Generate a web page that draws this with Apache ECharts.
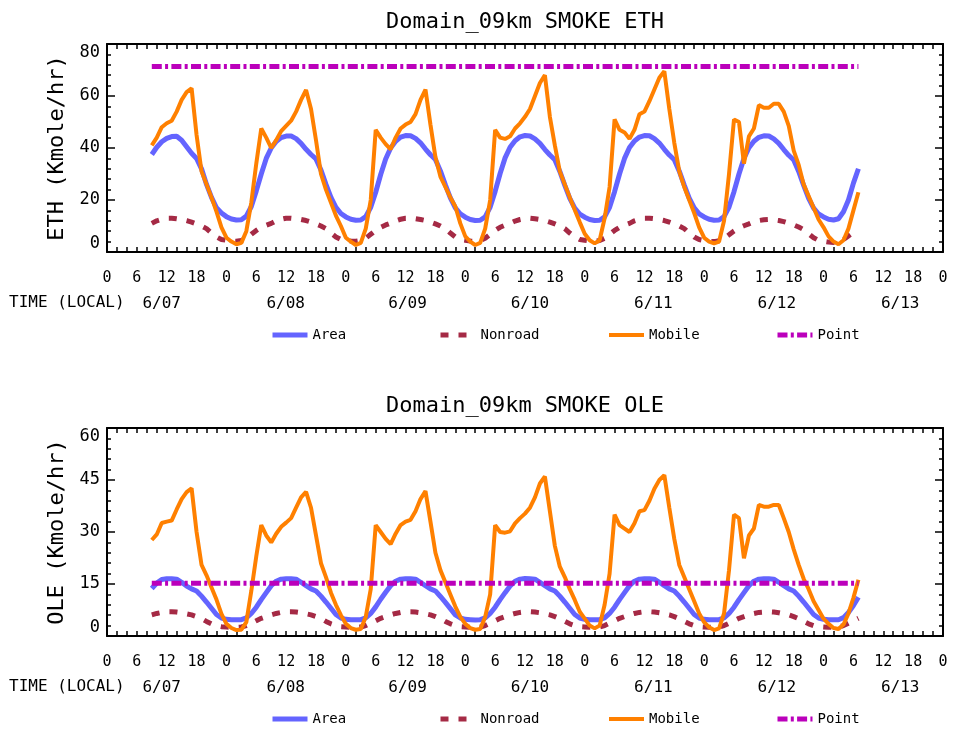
<!DOCTYPE html>
<html>
<head>
<meta charset="utf-8">
<script src="https://cdn.jsdelivr.net/npm/echarts@6/dist/echarts.min.js"></script>
<style>html,body{margin:0;padding:0;background:#fff}#c{width:957px;height:731px}</style>
</head>
<body>
<div id="c"></div>
<script>
// ---------------- DATA ----------------
// hourly values, local time, first value at 6/07 09:00 (hour 9 of the axis), last at 6/13 07:00
const firstHour = 9;
const dateLabels = ['6/07', '6/08', '6/09', '6/10', '6/11', '6/12', '6/13'];
const dateLabelHours = [11, 35.9, 60.4, 85, 109.8, 134.6, 159.4];
const seriesNames = ['Area', 'Nonroad', 'Mobile', 'Point'];

const ethArea = [
  37.5, 40.3, 42.4, 43.7, 44.4, 44.5, 43, 40.5, 38, 36, 32, 26, 21, 17, 15,
  13.6, 12.7, 12.3, 12.4, 13.8, 17.5, 23.5, 30, 36, 40, 42.5, 44, 44.6, 44.6, 43.6, 41.8, 39.5, 37.5, 35.8, 31.5, 26, 21, 17.2, 14.8,
  13.5, 12.6, 12.2, 12.3, 13.6, 17.2, 23, 29.8, 35.8, 40, 42.6, 44.2, 44.8, 44.7, 43.7, 42, 39.6, 37.4, 35.6, 31.2, 25.8, 20.8, 17, 14.7,
  13.4, 12.5, 12.1, 12.2, 13.5, 17.3, 23.3, 30.2, 36.2, 40.3, 42.8, 44.3, 44.8, 44.6, 43.5, 41.8, 39.4, 37.3, 35.5, 31, 25.6, 20.6, 16.9, 14.6,
  13.4, 12.5, 12.1, 12.2, 13.5, 17.2, 23.2, 30, 36, 40.2, 42.7, 44.2, 44.8, 44.7, 43.6, 41.9, 39.5, 37.3, 35.5, 31.1, 25.7, 20.7, 17, 14.7,
  13.5, 12.6, 12.2, 12.3, 13.6, 17.3, 23.2, 30, 36, 40.1, 42.6, 44.1, 44.7, 44.6, 43.5, 41.8, 39.4, 37.2, 35.4, 31, 25.6, 20.6, 16.9, 14.6,
  13.5, 12.6, 12.3, 12.8, 15.5, 20, 26.5, 32
];
const ethNonroad = [
  11, 12, 12.6, 13, 13, 12.8, 12.5, 12.1, 11.5, 10.8, 10, 9, 7.3, 5.8, 4.8,
  4.5, 4.2, 4.1, 4.4, 5.3, 6.8, 8.3, 9.5, 10.3, 11, 12, 12.6, 13, 13, 12.8, 12.5, 12.1, 11.5, 10.8, 10, 9, 7.3, 5.8, 4.8,
  4.5, 4.2, 4.1, 4.4, 5.3, 6.8, 8.3, 9.5, 10.4, 11.1, 12, 12.6, 13, 13, 12.8, 12.5, 12.1, 11.5, 10.8, 10, 9, 7.3, 5.8, 4.8,
  4.5, 4.2, 4.1, 4.4, 5.3, 6.8, 8.3, 9.5, 10.3, 11, 11.9, 12.5, 12.9, 13, 12.8, 12.5, 12.1, 11.5, 10.8, 10, 9, 7.3, 5.8, 4.8,
  4.5, 4.2, 4.1, 4.4, 5.3, 6.8, 8.3, 9.5, 10.3, 11, 12, 12.6, 13, 13, 12.8, 12.5, 12.1, 11.5, 10.8, 10, 9, 7.3, 5.8, 4.8,
  4.4, 4.1, 4, 4.3, 5.2, 6.6, 8.1, 9.3, 10.1, 10.8, 11.6, 12.1, 12.4, 12.5, 12.4, 12.1, 11.7, 11.1, 10.4, 9.6, 8.6, 7, 5.5, 4.5,
  4.1, 3.8, 3.7, 4, 4.8, 6.2, 7.6, 8.8
];
const ethMobile = [
  41, 44, 48, 49.5, 50.5, 54, 58.5, 61.5, 63, 45, 31, 26, 21, 15.5, 9.5,
  5.5, 4, 3, 3.5, 8, 19, 34, 47.5, 44, 40, 43, 46.5, 48.5, 50.5, 54, 58.5, 62.3, 55, 43, 30, 24, 19, 14, 10,
  5.5, 4, 2.7, 3.5, 9, 20, 47, 44, 41.5, 39.5, 44, 47.5, 49, 50, 53, 58.5, 62.5, 49, 36.5, 29, 25, 21, 17.5, 11,
  6, 4, 2.7, 3.5, 9, 20, 47, 44, 43.5, 44.5, 47.5, 49.5, 52, 55, 60, 65, 68, 52, 41, 31, 26, 21, 16.2, 11.5,
  7, 4.5, 3.3, 4.5, 13, 25, 51, 47, 46, 43.5, 47, 53, 54, 58, 62.5, 67, 69.5, 55, 42, 31, 25, 20, 15, 9.5,
  5.5, 4, 3.3, 4, 12, 30, 51, 50, 34, 44.5, 47.5, 56.5, 55.5, 55.5, 57, 57, 54, 48.5, 39, 33.5, 26, 21.5, 17, 12.5,
  9.5, 6, 4, 3, 4.5, 9, 16, 23
];
const ethPointLevel = 71.3;

const oleArea = [
  13.7, 15.3, 16.3, 16.5, 16.5, 16.4, 15.5, 14.4, 13.6, 13, 11.5, 9.8, 8, 6.2, 5.2,
  4.8, 4.7, 4.7, 4.7, 5.2, 6.5, 8.3, 10.5, 12.5, 14.5, 15.8, 16.4, 16.5, 16.5, 16.4, 15.5, 14.5, 13.6, 13, 11.5, 9.8, 8, 6.2, 5.2,
  4.8, 4.7, 4.7, 4.7, 5.2, 6.5, 8.4, 10.6, 12.6, 14.5, 15.8, 16.4, 16.5, 16.5, 16.4, 15.5, 14.5, 13.6, 13, 11.4, 9.7, 7.9, 6.1, 5.2,
  4.8, 4.7, 4.6, 4.7, 5.2, 6.5, 8.3, 10.5, 12.5, 14.4, 15.8, 16.4, 16.6, 16.5, 16.4, 15.5, 14.5, 13.6, 13, 11.5, 9.8, 8, 6.2, 5.2,
  4.8, 4.7, 4.7, 4.7, 5.2, 6.5, 8.3, 10.5, 12.5, 14.5, 15.8, 16.4, 16.5, 16.5, 16.4, 15.5, 14.5, 13.6, 13, 11.5, 9.8, 8, 6.2, 5.2,
  4.8, 4.7, 4.7, 4.7, 5.2, 6.5, 8.3, 10.5, 12.5, 14.5, 15.8, 16.4, 16.5, 16.5, 16.4, 15.5, 14.5, 13.6, 13, 11.5, 9.8, 8, 6.2, 5.2,
  4.8, 4.7, 4.7, 4.7, 5.3, 6.8, 8.8, 11.2
];
const oleNonroad = [
  6.1, 6.5, 6.8, 7, 7, 6.9, 6.7, 6.4, 6.1, 5.6, 5, 4.2, 3.5, 3, 2.7,
  2.6, 2.5, 2.5, 2.6, 3, 3.7, 4.4, 5.1, 5.6, 6.1, 6.5, 6.8, 7, 7, 6.9, 6.7, 6.4, 6.1, 5.6, 5, 4.2, 3.5, 3, 2.7,
  2.6, 2.5, 2.5, 2.6, 3, 3.7, 4.4, 5.1, 5.6, 6.1, 6.5, 6.8, 7, 7, 6.9, 6.7, 6.4, 6.1, 5.6, 5, 4.2, 3.5, 3, 2.7,
  2.6, 2.5, 2.5, 2.6, 3, 3.7, 4.4, 5.1, 5.6, 6.1, 6.5, 6.8, 7, 7, 6.9, 6.7, 6.4, 6.1, 5.6, 5, 4.2, 3.5, 3, 2.7,
  2.6, 2.5, 2.5, 2.6, 3, 3.7, 4.4, 5.1, 5.6, 6.1, 6.5, 6.8, 7, 7, 6.9, 6.7, 6.4, 6.1, 5.6, 5, 4.2, 3.5, 3, 2.7,
  2.6, 2.5, 2.5, 2.6, 3, 3.7, 4.4, 5.1, 5.6, 6.1, 6.5, 6.8, 6.9, 7, 6.9, 6.7, 6.4, 6.1, 5.6, 5, 4.2, 3.5, 3, 2.7,
  2.6, 2.5, 2.5, 2.6, 3, 3.7, 4.4, 5.1
];
const oleMobile = [
  27.7, 29.3, 32.6, 33, 33.3, 36.5, 39.5, 41.5, 42.6, 30, 20.5, 17.5, 14, 10.5, 6.4,
  3.5, 2.3, 1.7, 1.8, 4, 13, 23, 32, 29, 27, 29.5, 31.5, 32.7, 34, 37, 40, 41.6, 37, 29, 21, 17, 12.5, 9, 6,
  3.5, 2.3, 1.8, 2, 5.5, 13.5, 32, 30, 28, 26.5, 29.5, 32, 33, 33.5, 36, 39.5, 41.8, 33, 24, 19, 15.5, 12, 8.5, 5.5,
  3.5, 2.3, 1.8, 2, 5.5, 12, 32, 30, 29.8, 30.2, 32.5, 34, 35.3, 37, 40, 44, 46, 36, 26, 20, 17, 13.5, 10.4, 7,
  5, 3, 2.2, 3, 9, 18, 35, 32, 31, 30, 32.5, 36, 36.3, 39, 42.5, 45, 46.4, 37, 28, 20.5, 17, 13.5, 10, 6.5,
  4, 2.5, 1.7, 2.2, 6.5, 19, 35, 34, 22.4, 29, 31, 37.8, 37.3, 37.3, 37.8, 37.8, 34, 30, 25, 20.5, 16.5, 13.5, 10, 7.5,
  5, 3.5, 2.3, 2, 3.3, 6.5, 11, 16.2
];
const olePointLevel = 15.2;

// ---------------- STYLE ----------------
const FONT = '"DejaVu Sans Mono", monospace';
const styles = {
  Area:    { color: '#6464ff', width: 5, type: 'solid' },
  Nonroad: { color: '#a52a45', width: 5, type: [8, 10] },
  Mobile:  { color: '#ff8000', width: 4, type: 'solid' },
  Point:   { color: '#bb00bb', width: 5, type: [10, 3.3, 3, 3.3] }
};

function pairs(arr) { return arr.map((v, i) => [firstHour + i, v]); }
function flat(level, n) { return [[firstHour, level], [firstHour + n - 1, level]]; }

function xAxesFor(g) {
  const tickLine = { color: '#000', width: 1.5 };
  return [
    { gridIndex: g, type: 'value', position: 'bottom', min: 0, max: 168, interval: 6,
      axisLine: { show: true, onZero: false, lineStyle: { color: '#000', width: 2 } },
      axisTick: { show: true, inside: true, length: 5, lineStyle: tickLine },
      minorTick: { show: true, splitNumber: 3, length: 5, lineStyle: tickLine },
      splitLine: { show: false }, minorSplitLine: { show: false },
      axisLabel: { show: true, margin: 19, fontSize: 15, fontFamily: FONT, color: '#000',
        formatter: v => String(v % 24) } },
    { gridIndex: g, type: 'value', position: 'top', min: 0, max: 168, interval: 6,
      axisLine: { show: true, onZero: false, lineStyle: { color: '#000', width: 2 } },
      axisTick: { show: true, inside: true, length: 5, lineStyle: tickLine },
      minorTick: { show: true, splitNumber: 3, length: 5, lineStyle: tickLine },
      splitLine: { show: false }, axisLabel: { show: false } },
    { gridIndex: g, type: 'value', position: 'bottom', min: 0, max: 168,
      axisLine: { show: false, onZero: false }, axisTick: { show: false }, splitLine: { show: false },
      axisLabel: { show: true, margin: 44, fontSize: 16, fontFamily: FONT, color: '#000',
        customValues: dateLabelHours,
        formatter: v => { const i = dateLabelHours.indexOf(v); return i >= 0 ? dateLabels[i] : ''; } } }
  ];
}
function yAxesFor(g, max, interval, name) {
  const tickLine = { color: '#000', width: 1.5 };
  return [
    { gridIndex: g, type: 'value', position: 'left', min: 0, max: max, interval: interval,
      name: name, nameLocation: 'middle', nameGap: 37, nameRotate: 90,
      nameTextStyle: { fontSize: 22, fontFamily: FONT, color: '#000' },
      axisLine: { show: true, onZero: false, lineStyle: { color: '#000', width: 2 } },
      axisTick: { show: true, inside: true, length: 8, lineStyle: tickLine },
      minorTick: { show: true, splitNumber: 5, length: 4, lineStyle: tickLine },
      splitLine: { show: false }, minorSplitLine: { show: false },
      axisLabel: { show: true, margin: 7, fontSize: 17, fontFamily: FONT, color: '#000',
        verticalAlignMinLabel: 'bottom', verticalAlignMaxLabel: 'top' } },
    { gridIndex: g, type: 'value', position: 'right', min: 0, max: max, interval: interval,
      axisLine: { show: true, onZero: false, lineStyle: { color: '#000', width: 2 } },
      axisTick: { show: true, inside: true, length: 8, lineStyle: tickLine },
      minorTick: { show: true, splitNumber: 5, length: 4, lineStyle: tickLine },
      splitLine: { show: false }, axisLabel: { show: false } }
  ];
}
function seriesFor(g, data) {
  return seriesNames.map(n => ({
    name: n, type: 'line', xAxisIndex: g * 3, yAxisIndex: g * 2,
    data: data[n], symbol: 'none', showSymbol: false, silent: true, animation: false,
    lineStyle: { color: styles[n].color, width: styles[n].width, type: styles[n].type, cap: 'butt' },
    itemStyle: { color: styles[n].color }
  }));
}
const legendLeft = [270, 438, 607, 775];
function legendsFor(top) {
  return seriesNames.map((n, i) => ({
    left: legendLeft[i], top: top, padding: 0, itemWidth: 35, itemHeight: 14,
    selectedMode: false, data: [n],
    itemStyle: { opacity: 0 },
    lineStyle: { width: styles[n].width, color: styles[n].color, type: styles[n].type, cap: 'butt' },
    textStyle: { fontFamily: FONT, fontSize: 14, color: '#000' }
  }));
}

const chart = echarts.init(document.getElementById('c'), null, { renderer: 'canvas' });
const n = ethArea.length;
chart.setOption({
  animation: false,
  backgroundColor: '#fff',
  grid: [
    { left: 107, top: 44, width: 836, height: 208 },
    { left: 107, top: 428, width: 836, height: 208 }
  ],
  xAxis: xAxesFor(0).concat(xAxesFor(1)),
  yAxis: yAxesFor(0, 80, 20, 'ETH (Kmole/hr)').concat(yAxesFor(1, 60, 15, 'OLE (Kmole/hr)')),
  legend: legendsFor(328).concat(legendsFor(712)),
  graphic: [
    { type: 'text', x: 525, y: 22, style: { text: 'Domain_09km SMOKE ETH', font: '22px ' + FONT, fill: '#000', align: 'center', verticalAlign: 'middle' } },
    { type: 'text', x: 525, y: 406, style: { text: 'Domain_09km SMOKE OLE', font: '22px ' + FONT, fill: '#000', align: 'center', verticalAlign: 'middle' } },
    { type: 'text', x: 9, y: 303, style: { text: 'TIME (LOCAL)', font: '16px ' + FONT, fill: '#000', align: 'left', verticalAlign: 'middle' } },
    { type: 'text', x: 9, y: 687, style: { text: 'TIME (LOCAL)', font: '16px ' + FONT, fill: '#000', align: 'left', verticalAlign: 'middle' } }
  ],
  series: seriesFor(0, {
    Area: pairs(ethArea), Nonroad: pairs(ethNonroad), Mobile: pairs(ethMobile), Point: flat(ethPointLevel, n)
  }).concat(seriesFor(1, {
    Area: pairs(oleArea), Nonroad: pairs(oleNonroad), Mobile: pairs(oleMobile), Point: flat(olePointLevel, n)
  }))
});
</script>
</body>
</html>
